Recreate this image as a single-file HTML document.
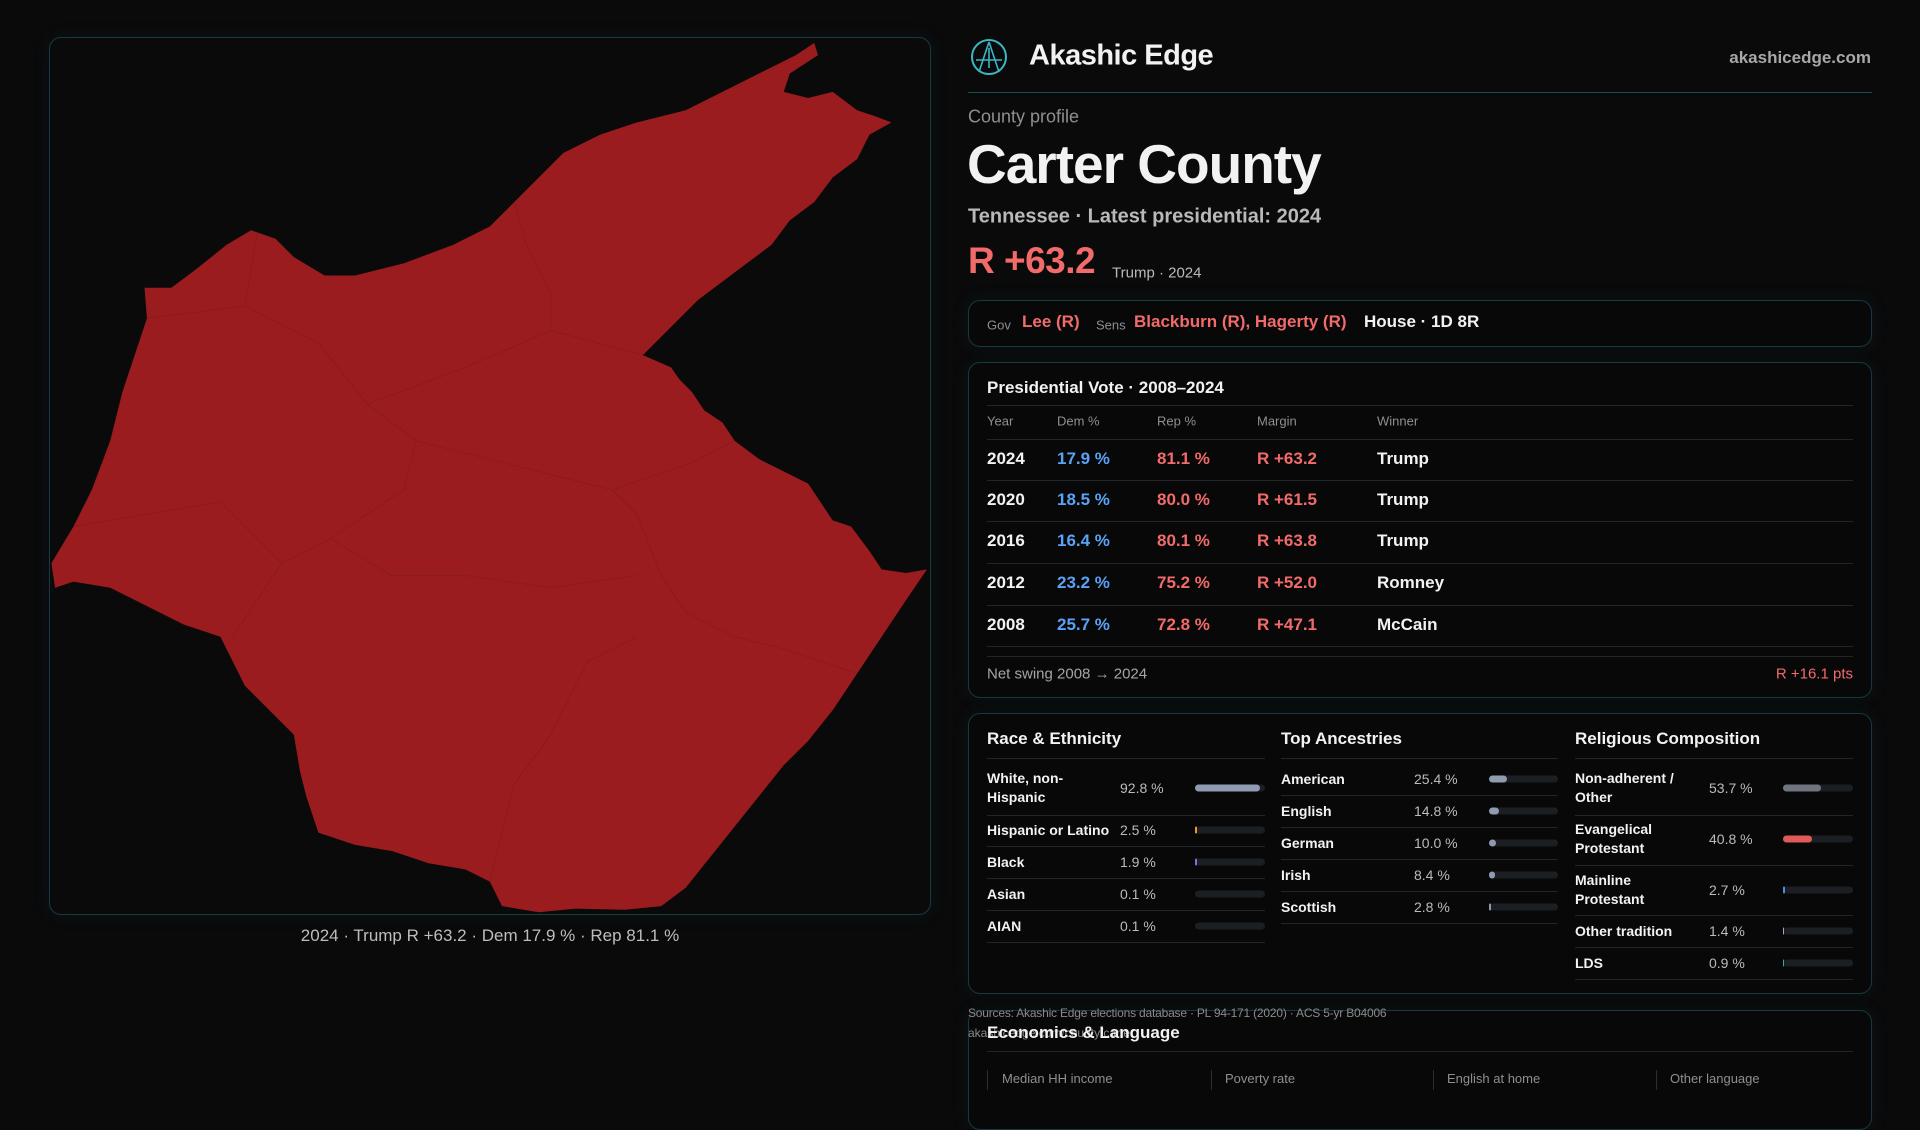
<!DOCTYPE html>
<html><head><meta charset="utf-8"><style>
*{margin:0;padding:0;box-sizing:border-box}
body{width:1920px;height:1080px;background:#0a0a0b;font-family:"Liberation Sans",sans-serif;color:#f2f2f2;position:relative;overflow:hidden}
.a{position:absolute;white-space:nowrap}
.box{position:absolute;border:1.5px solid #163a40;border-radius:12px;background:#080809;box-shadow:0 0 18px rgba(30,90,100,0.12)}
.hl{position:absolute;height:1px;background:#22262b}
.g{color:#8f8f8f}.c{color:#f26a6a}.b{color:#5aa2f5}
.t{font-size:17px;font-weight:700;transform:translateY(-50%)}
.s{font-size:14px;transform:translateY(-50%)}
.bar{position:absolute;height:7px;border-radius:4px;background:#1b1e23;transform:translateY(-50%)}
.bar i{position:absolute;left:0;top:0;bottom:0;border-radius:4px}
</style></head><body>
<div class="box" style="left:49px;top:37px;width:882px;height:878px;background:#0a0a0b"></div>
<svg class="a" style="left:0;top:0" width="1920" height="1080" viewBox="0 0 1568 882" preserveAspectRatio="none">
<polygon fill="#9b1c1f" points="665,35 668,45 645,60 640,75 660,80 680,75 700,90 715,95 728,100 710,110 700,130 680,145 665,165 645,180 630,200 610,215 590,230 570,245 555,260 540,275 525,290 548,300 555,310 565,320 575,335 590,345 600,360 620,375 640,385 660,395 670,410 680,425 695,430 710,450 720,465 740,468 757,465 740,490 720,520 700,550 680,580 660,605 640,625 620,650 600,675 580,700 560,725 540,740 510,743 470,742 440,745 410,740 400,720 380,710 350,705 320,695 290,690 260,680 250,650 245,630 240,600 220,580 200,560 190,540 180,520 150,510 120,495 90,480 60,475 45,480 42,460 60,430 75,400 90,360 100,320 110,290 120,260 118,235 140,235 160,220 185,200 205,188 225,195 240,210 265,225 290,225 330,215 370,200 400,185 420,165 440,145 460,125 490,110 520,100 560,90 600,70 630,55 650,45"/>
<g fill="none" stroke="#891a1d" stroke-width="0.7">
<path d="M120,260 L200,250 L260,280 L300,330 L340,360 L330,400 L300,420 L270,440 L230,460 L190,520"/>
<path d="M300,330 L380,300 L450,270 L525,290"/>
<path d="M340,360 L420,380 L500,400 L520,420 L540,470 L560,500"/>
<path d="M420,165 L430,200 L450,240 L450,270"/>
<path d="M200,250 L210,190"/><path d="M500,400 L560,380 L600,360"/>
<path d="M270,440 L320,470 L380,470 L450,480 L520,470"/>
<path d="M400,720 L420,640 L450,600 L480,540 L520,520"/>
<path d="M560,500 L600,520 L640,530 L700,550"/>
<path d="M60,430 L120,420 L180,410 L230,460"/>
</g>
</svg>
<div class="a" style="left:490px;top:936px;transform:translate(-50%,-50%);font-size:17px;color:#bdbdbd">2024 · Trump R +63.2 · Dem 17.9 % · Rep 81.1 %</div>

<svg class="a" style="left:970px;top:38px" width="38" height="38" viewBox="0 0 38 38"><circle cx="19" cy="19" r="17" fill="none" stroke="#3bb7c4" stroke-width="2"/><path d="M19,4 L9,34 M19,4 L29,34 M6,22 L32,22 M19,10 L19,30" stroke="#3bb7c4" stroke-width="1.6" fill="none"/></svg>
<div class="a" style="left:1029px;top:56px;transform:translateY(-50%);font-size:29px;font-weight:700;letter-spacing:-0.5px">Akashic Edge</div>
<div class="a" style="right:49px;top:58px;transform:translateY(-50%);font-size:17px;font-weight:700;color:#a8a8a8">akashicedge.com</div>
<div class="a" style="left:968px;top:92px;width:904px;height:1px;background:#1d4a50"></div>
<div class="a g" style="left:968px;top:117px;transform:translateY(-50%);font-size:18px">County profile</div>
<div class="a" style="left:967px;top:164px;transform:translateY(-50%);font-size:55px;font-weight:700;letter-spacing:-1px">Carter County</div>
<div class="a" style="left:968px;top:217px;transform:translateY(-50%);font-size:20px;color:#b9b9b9;font-weight:700">Tennessee · Latest presidential: 2024</div>
<div class="a c" style="left:968px;top:261px;transform:translateY(-50%);font-size:37px;font-weight:700;letter-spacing:-0.5px">R +63.2</div>
<div class="a" style="left:1112px;top:273px;transform:translateY(-50%);font-size:15px;color:#bbb">Trump · 2024</div>

<div class="box" style="left:968px;top:300px;width:904px;height:47px"></div>
<div class="a g" style="left:987px;top:325px;transform:translateY(-50%);font-size:13px">Gov</div>
<div class="a c" style="left:1022px;top:322px;transform:translateY(-50%);font-size:17px;font-weight:700">Lee (R)</div>
<div class="a g" style="left:1096px;top:325px;transform:translateY(-50%);font-size:13px">Sens</div>
<div class="a c" style="left:1134px;top:322px;transform:translateY(-50%);font-size:17px;font-weight:700">Blackburn (R), Hagerty (R)</div>
<div class="a" style="left:1364px;top:322px;transform:translateY(-50%);font-size:17px;font-weight:700">House · 1D 8R</div>

<div class="box" style="left:968px;top:362px;width:904px;height:336px"></div>
<div class="a t" style="left:987px;top:388px">Presidential Vote · 2008–2024</div>
<div class="hl" style="left:987px;top:405px;width:866px"></div>
<div class="a g" style="left:987px;top:421px;transform:translateY(-50%);font-size:13px">Year</div>
<div class="a g" style="left:1057px;top:421px;transform:translateY(-50%);font-size:13px">Dem %</div>
<div class="a g" style="left:1157px;top:421px;transform:translateY(-50%);font-size:13px">Rep %</div>
<div class="a g" style="left:1257px;top:421px;transform:translateY(-50%);font-size:13px">Margin</div>
<div class="a g" style="left:1377px;top:421px;transform:translateY(-50%);font-size:13px">Winner</div>
<div class="hl" style="left:987px;top:439px;width:866px"></div>
<div class="a t" style="left:987px;top:459px">2024</div><div class="a t b" style="left:1057px;top:459px">17.9 %</div><div class="a t c" style="left:1157px;top:459px">81.1 %</div><div class="a t c" style="left:1257px;top:459px">R +63.2</div><div class="a t" style="left:1377px;top:459px">Trump</div>
<div class="hl" style="left:987px;top:480px;width:866px"></div>
<div class="a t" style="left:987px;top:500px">2020</div><div class="a t b" style="left:1057px;top:500px">18.5 %</div><div class="a t c" style="left:1157px;top:500px">80.0 %</div><div class="a t c" style="left:1257px;top:500px">R +61.5</div><div class="a t" style="left:1377px;top:500px">Trump</div>
<div class="hl" style="left:987px;top:521px;width:866px"></div>
<div class="a t" style="left:987px;top:541px">2016</div><div class="a t b" style="left:1057px;top:541px">16.4 %</div><div class="a t c" style="left:1157px;top:541px">80.1 %</div><div class="a t c" style="left:1257px;top:541px">R +63.8</div><div class="a t" style="left:1377px;top:541px">Trump</div>
<div class="hl" style="left:987px;top:563px;width:866px"></div>
<div class="a t" style="left:987px;top:583px">2012</div><div class="a t b" style="left:1057px;top:583px">23.2 %</div><div class="a t c" style="left:1157px;top:583px">75.2 %</div><div class="a t c" style="left:1257px;top:583px">R +52.0</div><div class="a t" style="left:1377px;top:583px">Romney</div>
<div class="hl" style="left:987px;top:605px;width:866px"></div>
<div class="a t" style="left:987px;top:625px">2008</div><div class="a t b" style="left:1057px;top:625px">25.7 %</div><div class="a t c" style="left:1157px;top:625px">72.8 %</div><div class="a t c" style="left:1257px;top:625px">R +47.1</div><div class="a t" style="left:1377px;top:625px">McCain</div>
<div class="hl" style="left:987px;top:646px;width:866px"></div>
<div class="hl" style="left:987px;top:656px;width:866px"></div>
<div class="a" style="left:987px;top:674px;transform:translateY(-50%);font-size:15px;color:#a5a5a5">Net swing 2008 → 2024</div>
<div class="a c" style="right:67px;top:674px;transform:translateY(-50%);font-size:15px">R +16.1 pts</div>

<div class="box" style="left:968px;top:713px;width:904px;height:281px"></div>
<div class="a t" style="left:987px;top:739px">Race &amp; Ethnicity</div>
<div class="a t" style="left:1281px;top:739px">Top Ancestries</div>
<div class="a t" style="left:1575px;top:739px">Religious Composition</div>
<div class="hl" style="left:987px;top:758px;width:278px"></div>
<div class="hl" style="left:1281px;top:758px;width:277px"></div>
<div class="hl" style="left:1575px;top:758px;width:278px"></div>

<div class="a s" style="left:987px;top:788px;font-weight:700;line-height:19px;white-space:normal;width:120px">White, non-Hispanic</div>
<div class="a s" style="left:1120px;top:788px;color:#bbb">92.8 %</div><div class="bar" style="left:1195px;top:788px;width:70px"><i style="width:65px;background:#8f9bb0"></i></div>
<div class="hl" style="left:987px;top:815px;width:278px"></div>
<div class="a s" style="left:987px;top:830px;font-weight:700">Hispanic or Latino</div><div class="a s" style="left:1120px;top:830px;color:#bbb">2.5 %</div><div class="bar" style="left:1195px;top:830px;width:70px"><i style="width:2px;background:#e89a2a"></i></div>
<div class="hl" style="left:987px;top:846px;width:278px"></div>
<div class="a s" style="left:987px;top:862px;font-weight:700">Black</div><div class="a s" style="left:1120px;top:862px;color:#bbb">1.9 %</div><div class="bar" style="left:1195px;top:862px;width:70px"><i style="width:2px;background:#8a6be0"></i></div>
<div class="hl" style="left:987px;top:878px;width:278px"></div>
<div class="a s" style="left:987px;top:894px;font-weight:700">Asian</div><div class="a s" style="left:1120px;top:894px;color:#bbb">0.1 %</div><div class="bar" style="left:1195px;top:894px;width:70px"></div>
<div class="hl" style="left:987px;top:910px;width:278px"></div>
<div class="a s" style="left:987px;top:926px;font-weight:700">AIAN</div><div class="a s" style="left:1120px;top:926px;color:#bbb">0.1 %</div><div class="bar" style="left:1195px;top:926px;width:70px"></div>
<div class="hl" style="left:987px;top:942px;width:278px"></div>

<div class="a s" style="left:1281px;top:779px;font-weight:700">American</div><div class="a s" style="left:1414px;top:779px;color:#bbb">25.4 %</div><div class="bar" style="left:1489px;top:779px;width:69px"><i style="width:18px;background:#8f9bb0"></i></div>
<div class="hl" style="left:1281px;top:795px;width:277px"></div>
<div class="a s" style="left:1281px;top:811px;font-weight:700">English</div><div class="a s" style="left:1414px;top:811px;color:#bbb">14.8 %</div><div class="bar" style="left:1489px;top:811px;width:69px"><i style="width:10px;background:#8f9bb0"></i></div>
<div class="hl" style="left:1281px;top:827px;width:277px"></div>
<div class="a s" style="left:1281px;top:843px;font-weight:700">German</div><div class="a s" style="left:1414px;top:843px;color:#bbb">10.0 %</div><div class="bar" style="left:1489px;top:843px;width:69px"><i style="width:7px;background:#8f9bb0"></i></div>
<div class="hl" style="left:1281px;top:859px;width:277px"></div>
<div class="a s" style="left:1281px;top:875px;font-weight:700">Irish</div><div class="a s" style="left:1414px;top:875px;color:#bbb">8.4 %</div><div class="bar" style="left:1489px;top:875px;width:69px"><i style="width:6px;background:#8f9bb0"></i></div>
<div class="hl" style="left:1281px;top:891px;width:277px"></div>
<div class="a s" style="left:1281px;top:907px;font-weight:700">Scottish</div><div class="a s" style="left:1414px;top:907px;color:#bbb">2.8 %</div><div class="bar" style="left:1489px;top:907px;width:69px"><i style="width:2px;background:#8f9bb0"></i></div>
<div class="hl" style="left:1281px;top:923px;width:277px"></div>

<div class="a s" style="left:1575px;top:788px;font-weight:700;line-height:19px;white-space:normal;width:125px">Non-adherent / Other</div><div class="a s" style="left:1709px;top:788px;color:#bbb">53.7 %</div><div class="bar" style="left:1783px;top:788px;width:70px"><i style="width:38px;background:#6f7480"></i></div>
<div class="hl" style="left:1575px;top:815px;width:278px"></div>
<div class="a s" style="left:1575px;top:839px;font-weight:700;line-height:19px;white-space:normal;width:110px">Evangelical Protestant</div><div class="a s" style="left:1709px;top:839px;color:#bbb">40.8 %</div><div class="bar" style="left:1783px;top:839px;width:70px"><i style="width:29px;background:#e05a5a"></i></div>
<div class="hl" style="left:1575px;top:865px;width:278px"></div>
<div class="a s" style="left:1575px;top:890px;font-weight:700;line-height:19px;white-space:normal;width:110px">Mainline Protestant</div><div class="a s" style="left:1709px;top:890px;color:#bbb">2.7 %</div><div class="bar" style="left:1783px;top:890px;width:70px"><i style="width:2px;background:#4a8fe0"></i></div>
<div class="hl" style="left:1575px;top:915px;width:278px"></div>
<div class="a s" style="left:1575px;top:931px;font-weight:700">Other tradition</div><div class="a s" style="left:1709px;top:931px;color:#bbb">1.4 %</div><div class="bar" style="left:1783px;top:931px;width:70px"><i style="width:1px;background:#aaa"></i></div>
<div class="hl" style="left:1575px;top:947px;width:278px"></div>
<div class="a s" style="left:1575px;top:963px;font-weight:700">LDS</div><div class="a s" style="left:1709px;top:963px;color:#bbb">0.9 %</div><div class="bar" style="left:1783px;top:963px;width:70px"><i style="width:1px;background:#2ab0a0"></i></div>
<div class="hl" style="left:1575px;top:979px;width:278px"></div>

<div class="box" style="left:968px;top:1010px;width:904px;height:120px"></div>
<div class="a" style="left:968px;top:1013px;transform:translateY(-50%);font-size:12px;color:#8a8a8a;letter-spacing:-0.2px">Sources: Akashic Edge elections database · PL 94-171 (2020) · ACS 5-yr B04006</div>
<div class="a" style="left:968px;top:1033px;transform:translateY(-50%);font-size:12px;color:#8a8a8a">akashicedge.com/county/carter</div>
<div class="a t" style="left:987px;top:1033px">Economics &amp; Language</div>
<div class="hl" style="left:987px;top:1051px;width:866px"></div>
<div class="a" style="left:987px;top:1070px;width:1px;height:20px;background:#2a2e33"></div>
<div class="a" style="left:1211px;top:1070px;width:1px;height:20px;background:#2a2e33"></div>
<div class="a" style="left:1433px;top:1070px;width:1px;height:20px;background:#2a2e33"></div>
<div class="a" style="left:1656px;top:1070px;width:1px;height:20px;background:#2a2e33"></div>
<div class="a g" style="left:1002px;top:1071px;font-size:13px">Median HH income</div>
<div class="a g" style="left:1225px;top:1071px;font-size:13px">Poverty rate</div>
<div class="a g" style="left:1447px;top:1071px;font-size:13px">English at home</div>
<div class="a g" style="left:1670px;top:1071px;font-size:13px">Other language</div>
</body></html>
